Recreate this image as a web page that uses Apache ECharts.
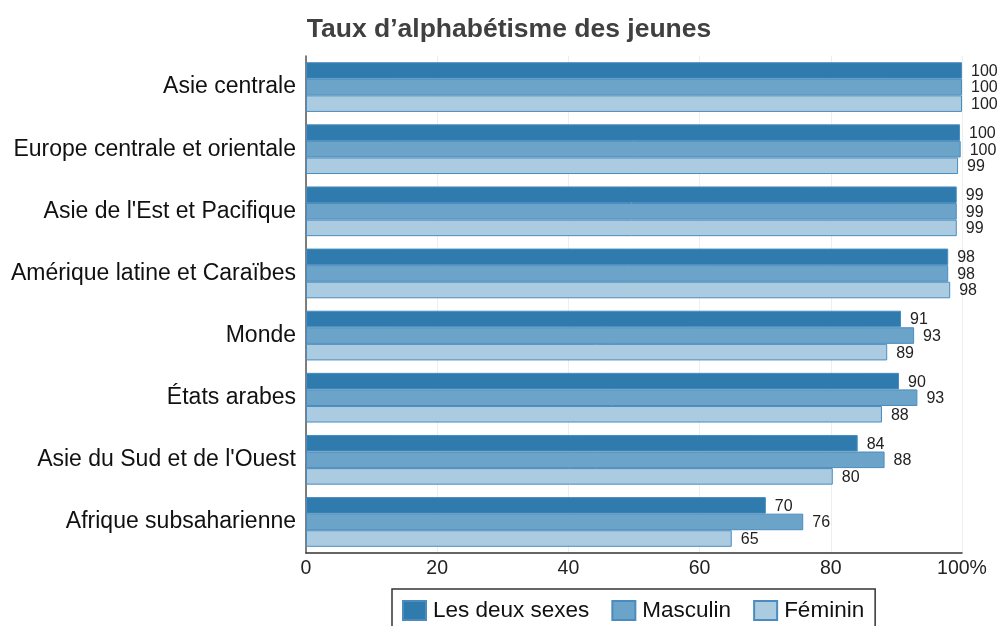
<!DOCTYPE html>
<html>
<head>
<meta charset="utf-8">
<script src="https://cdn.jsdelivr.net/npm/echarts@6/dist/echarts.min.js"></script>
<style>
  html, body { margin: 0; padding: 0; background: #fff; }
  #chart { width: 1002px; height: 626px; }
</style>
</head>
<body>
<div id="chart"></div>
<script>
const regions = [
  'Asie centrale',
  'Europe centrale et orientale',
  "Asie de l'Est et Pacifique",
  'Amérique latine et Caraïbes',
  'Monde',
  'États arabes',
  "Asie du Sud et de l'Ouest",
  'Afrique subsaharienne'
]
const bothSexes = [100, 99.7, 99.2, 97.9, 90.7, 90.4, 84.1, 70.1]
const male = [100, 99.8, 99.2, 97.9, 92.7, 93.2, 88.2, 75.8]
const female = [100, 99.4, 99.2, 98.2, 88.6, 87.8, 80.3, 64.9]
const xTicks = [0, 20, 40, 60, 80, 100]

const font = 'Liberation Sans, Arial, sans-serif'
const chart = echarts.init(document.getElementById('chart'))

function barSeries(name, data, color) {
  return {
    name: name,
    type: 'bar',
    data: data,
    barGap: '0%',
    barCategoryGap: '20%',
    itemStyle: {
      color: color,
      borderColor: '#4a8cbf',
      borderWidth: 1
    },
    label: {
      show: true,
      position: 'right',
      distance: 9,
      offset: [0, 1],
      fontFamily: font,
      fontSize: 16,
      color: '#222',
      formatter: (p) => Math.round(p.value)
    }
  }
}

const option = {
  animation: false,
  title: {
    text: 'Taux d’alphabétisme des jeunes',
    left: 504,
    textAlign: 'center',
    top: 11,
    textStyle: {
      fontFamily: font,
      fontSize: 26.5,
      fontWeight: 'bold',
      color: '#404040'
    }
  },
  legend: {
    top: 589,
    left: 392,
    itemWidth: 23,
    itemHeight: 19,
    itemGap: 22,
    padding: [10, 11, 8, 10],
    borderColor: '#333',
    borderWidth: 1.5,
    icon: 'rect',
    textStyle: {
      fontFamily: font,
      fontSize: 22.5,
      color: '#111',
      padding: [0, 0, 0, 2]
    },
    data: ['Les deux sexes', 'Masculin', 'Féminin']
  },
  grid: {
    left: 306,
    right: 40,
    top: 56,
    bottom: 73,
    containLabel: false
  },
  xAxis: {
    type: 'value',
    min: xTicks[0],
    max: xTicks[xTicks.length - 1],
    interval: 20,
    axisLine: { show: true, lineStyle: { color: '#333', width: 1.5 } },
    axisTick: { show: false },
    splitLine: { show: true, lineStyle: { color: '#eeeeee', width: 1 } },
    axisLabel: {
      fontFamily: font,
      fontSize: 19.5,
      color: '#222',
      margin: 6,
      formatter: (v) => (v === 100 ? '100%' : v)
    }
  },
  yAxis: {
    type: 'category',
    data: regions,
    inverse: true,
    axisLine: { show: true, lineStyle: { color: '#555', width: 1.5 } },
    axisTick: { show: false },
    axisLabel: {
      fontFamily: font,
      fontSize: 23,
      color: '#111',
      margin: 10
    }
  },
  series: [
    barSeries('Les deux sexes', bothSexes, '#2f7bad'),
    barSeries('Masculin', male, '#6ca4c9'),
    barSeries('Féminin', female, '#abcbe1')
  ]
}

chart.setOption(option)
window.onresize = chart.resize
</script>
</body>
</html>
